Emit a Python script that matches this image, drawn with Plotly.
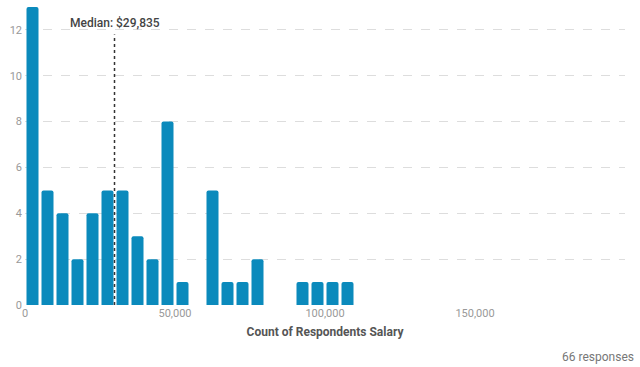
import plotly.graph_objects as go

bin_starts = [0, 5000, 10000, 15000, 20000, 25000, 30000, 35000, 40000, 45000,
              50000, 55000, 60000, 65000, 70000, 75000, 80000, 85000, 90000, 95000,
              100000, 105000]
counts = [13, 5, 4, 2, 4, 5, 5, 3, 2, 8,
          1, 0, 5, 1, 1, 2, 0, 0, 1, 1,
          1, 1]
bin_size = 5000
median_value = 29835
responses = 66
x_ticks = [0, 50000, 100000, 150000]
y_ticks = [0, 2, 4, 6, 8, 10, 12]

centers = [s + bin_size / 2 for s in bin_starts]

fig = go.Figure()
fig.add_trace(go.Bar(
    x=centers, y=counts, width=bin_size * 0.8,
    marker=dict(color="#0b8abc", line=dict(width=0)),
    hoverinfo="skip",
))

fig.add_shape(type="line", x0=median_value, x1=median_value, y0=0, y1=11.8,
              xref="x", yref="y", line=dict(color="#333333", width=1.5, dash="dot"))
fig.add_annotation(x=median_value, y=12.3, xref="x", yref="y",
                   text=f"Median: ${median_value:,}", showarrow=False,
                   font=dict(family="Roboto", size=12, color="#444444", weight=500))
fig.add_annotation(x=1.018, y=-0.175, xref="paper", yref="paper", xanchor="right", yanchor="middle",
                   text=f"{responses} responses", showarrow=False,
                   font=dict(family="Roboto", size=12, color="#777777"))

fig.update_layout(
    width=640, height=367,
    margin=dict(l=25, r=15, t=7, b=62),
    plot_bgcolor="white", paper_bgcolor="white",
    showlegend=False,
    barcornerradius=2,
    font=dict(family="Roboto", color="#999999", size=11),
    xaxis=dict(range=[0, 200000], tickvals=x_ticks, ticktext=[f"{v:,}" for v in x_ticks],
               showgrid=False, zeroline=False, showline=False, ticks="", automargin=False,
               title=dict(text="Count of Respondents Salary",
                          font=dict(family="Roboto", size=12, color="#555555", weight="bold"),
                          standoff=8)),
    yaxis=dict(range=[0, 13], tickvals=y_ticks, showgrid=True, gridcolor="#dddddd",
               griddash="dash", gridwidth=1, zeroline=False, showline=False, ticks="",
               ticklabelstandoff=2, automargin=False),
)

fig.write_html("out.html", config={"displayModeBar": False},
               post_script="document.body.style.margin='0';")
